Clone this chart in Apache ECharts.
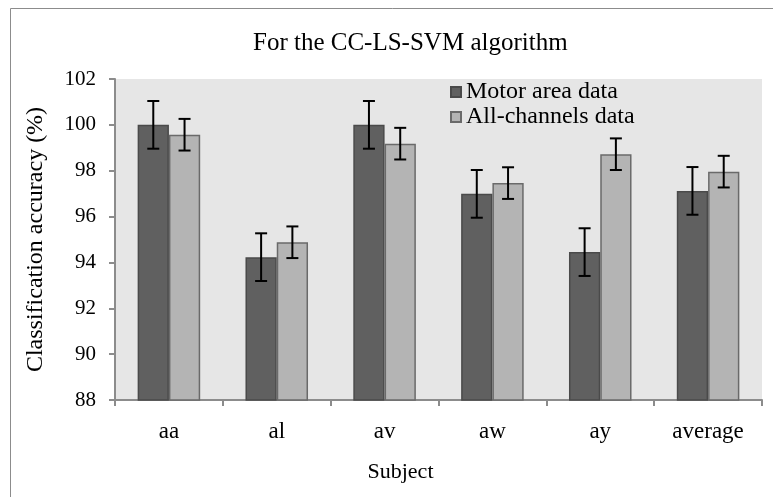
<!DOCTYPE html>
<html>
<head>
<meta charset="utf-8">
<script src="https://cdn.jsdelivr.net/npm/echarts@6/dist/echarts.min.js"></script>
<style>
  html, body { margin: 0; padding: 0; background: #fff; }
  #main { width: 773px; height: 497px; }
</style>
</head>
<body>
<div id="main"></div>
<script>
var subjects = ['aa', 'al', 'av', 'aw', 'ay', 'average']
var motorArea = [100.0, 94.23, 100.0, 96.99, 94.45, 97.12]
var motorErr = [1.04, 1.04, 1.04, 1.04, 1.04, 1.04]
var allChannels = [99.57, 94.88, 99.18, 97.46, 98.72, 97.96]
var allErr = [0.69, 0.69, 0.69, 0.69, 0.69, 0.69]

var serif = 'Liberation Serif'

var errData = function (vals, errs) {
  return vals.map(function (v, i) { return [i, v - errs[i], v + errs[i]] })
}

// error bars sit on the centre of the left (-1) or right (+1) bar of each group
var errorBars = function (side) {
  return function (params, api) {
    var band = api.size([1, 0])[0]
    var off = side * band * 0.29 / 2
    var lo = api.coord([api.value(0), api.value(1)])
    var hi = api.coord([api.value(0), api.value(2)])
    var x = lo[0] + off
    var cap = 6
    var st = { stroke: '#000', lineWidth: 2 }
    return {
      type: 'group',
      children: [
        { type: 'line', shape: { x1: x, y1: hi[1], x2: x, y2: lo[1] }, style: st },
        { type: 'line', shape: { x1: x - cap, y1: hi[1], x2: x + cap, y2: hi[1] }, style: st },
        { type: 'line', shape: { x1: x - cap, y1: lo[1], x2: x + cap, y2: lo[1] }, style: st }
      ]
    }
  }
}

var myChart = echarts.init(document.getElementById('main'))

var option = {
  animation: false,
  backgroundColor: '#fff',
  title: {
    text: 'For the CC-LS-SVM algorithm',
    left: 248,
    top: 26,
    textStyle: { fontFamily: serif, fontSize: 25, fontWeight: 'normal', color: '#000' }
  },
  graphic: [
    { type: 'rect', shape: { x: 10.5, y: 8.5, width: 800, height: 520 },
      style: { fill: 'none', stroke: '#8c8c8c', lineWidth: 1 }, silent: true }
  ],
  legend: {
    orient: 'vertical',
    left: 445,
    top: 75,
    itemWidth: 10,
    itemHeight: 10,
    itemGap: 1,
    icon: 'rect',
    data: ['Motor area data', 'All-channels data'],
    textStyle: { fontFamily: serif, fontSize: 24, lineHeight: 22, color: '#000' }
  },
  grid: {
    left: 115,
    right: 11,
    top: 79,
    bottom: 97,
    show: true,
    backgroundColor: '#e6e6e6',
    borderWidth: 0
  },
  xAxis: {
    type: 'category',
    data: subjects,
    name: 'Subject',
    nameLocation: 'middle',
    nameGap: 61,
    nameTextStyle: { fontFamily: serif, fontSize: 22, color: '#000', padding: [0, 76, 0, 0] },
    axisLine: { lineStyle: { color: '#8c8c8c', width: 2 } },
    axisTick: { show: true, length: 6, lineStyle: { color: '#8c8c8c', width: 2 } },
    axisLabel: { fontFamily: serif, fontSize: 23, color: '#000', margin: 20 }
  },
  yAxis: {
    type: 'value',
    min: 88,
    max: 102,
    interval: 2,
    name: 'Classification accuracy (%)',
    nameLocation: 'middle',
    nameGap: 67,
    nameTextStyle: { fontFamily: serif, fontSize: 24, color: '#000' },
    axisLine: { show: true, lineStyle: { color: '#8c8c8c', width: 2 } },
    axisTick: { show: true, length: 6, lineStyle: { color: '#8c8c8c', width: 2 } },
    splitLine: { show: false },
    axisLabel: { fontFamily: serif, fontSize: 21, color: '#000', margin: 19 }
  },
  series: [
    {
      name: 'Motor area data',
      type: 'bar',
      data: motorArea,
      barWidth: '29%',
      barGap: '0%',
      itemStyle: { color: '#606060', borderColor: '#4a4a4a', borderWidth: 1.5 }
    },
    {
      name: 'All-channels data',
      type: 'bar',
      data: allChannels,
      barWidth: '29%',
      barGap: '0%',
      itemStyle: { color: '#b4b4b4', borderColor: '#6a6a6a', borderWidth: 1.5 }
    },
    {
      type: 'custom',
      renderItem: errorBars(-1),
      data: errData(motorArea, motorErr),
      encode: { x: 0, y: [1, 2] },
      z: 10
    },
    {
      type: 'custom',
      renderItem: errorBars(1),
      data: errData(allChannels, allErr),
      encode: { x: 0, y: [1, 2] },
      z: 10
    }
  ]
}

myChart.setOption(option)
</script>
</body>
</html>
